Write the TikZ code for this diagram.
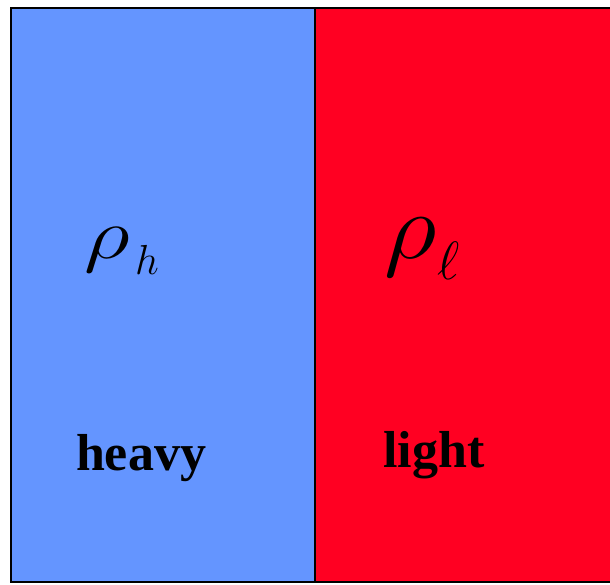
\RequirePackage{fix-cm}
\documentclass[tikz,border=0pt]{standalone}
\usepackage{fontspec}
\setmainfont{Liberation Serif}
\definecolor{heavyblue}{HTML}{6495FF}
\definecolor{lightred}{HTML}{FF0022}
\begin{document}
\begin{tikzpicture}[x=1pt,y=-1pt,
  panel/.style={draw=black,line width=2.5pt},
  sym/.style={inner sep=0pt,anchor=base west},
  lab/.style={inner sep=0pt,font=\fontsize{52}{60}\selectfont\bfseries}]
\useasboundingbox (0,0) rectangle (610,584);
\begin{scope}
\clip (0,0) rectangle (610,584);
\fill[white] (0,0) rectangle (610,584);
\draw[panel,fill=heavyblue] (11,8) rectangle (315,582);
\draw[panel,fill=lightred] (315,8) rectangle (640,582);
\end{scope}
\node[sym,xscale=1.25,font=\fontsize{72}{80}\selectfont] (rh) at (84,258) {$\rho$};
\node[sym,font=\fontsize{42}{48}\selectfont] (sh) at (135,274) {$h$};
\node[sym,xscale=1.1,font=\fontsize{94}{100}\selectfont] (rl) at (384,258) {$\rho$};
\node[sym,font=\fontsize{54}{60}\selectfont] (sl) at (437,279) {$\ell$};
\node[lab,anchor=base] (hv) at (141,470) {heavy};
\node[lab,anchor=base] (lt) at (434,467) {light};
\end{tikzpicture}
\end{document}
